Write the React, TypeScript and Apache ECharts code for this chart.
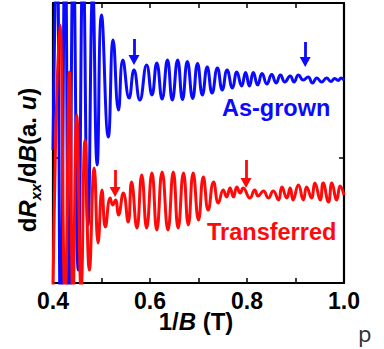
import React, { useEffect, useRef } from "react";
import * as echarts from "echarts";

const xTicks = [0.4, 0.5, 0.6, 0.7, 0.8, 0.9, 1.0];
const xTickLabels = ["0.4", "", "0.6", "", "0.8", "", "1.0"];

const blueX = [0.400,0.408,0.416,0.425,0.433,0.442,0.452,0.462,0.472,0.482,0.491,0.500,0.514,0.524,0.535,0.544,0.557,0.567,0.579,0.593,0.604,0.614,0.625,0.636,0.646,0.657,0.667,0.677,0.688,0.698,0.708,0.718,0.728,0.739,0.749,0.759,0.770,0.779,0.789,0.797,0.805,0.813,0.822,0.831,0.841,0.851,0.860,0.869,0.878,0.889,0.897,0.906,0.916,0.926,0.935,0.944,0.954,0.964,0.973,0.981,0.988,0.994,1.000];
const blueY = [133,343,-57,343,-47,333,13,323,58,293,118,268,146,243,173,223,185,213,183,218,188,220,184,223,183,223,183.5,221.5,184.5,219.5,188,216,190,215,193,213,195,211,197,210.5,197,210.5,198,209.5,199,208.5,200,208,201,207,201,208,203,206,200,205,201,205,201.5,204.5,202.5,205,203];

const redX = [0.400,0.414,0.425,0.434,0.441,0.449,0.458,0.466,0.475,0.485,0.493,0.501,0.508,0.518,0.523,0.529,0.535,0.545,0.555,0.562,0.573,0.583,0.593,0.604,0.614,0.625,0.637,0.648,0.658,0.669,0.679,0.689,0.700,0.710,0.720,0.731,0.741,0.751,0.758,0.765,0.772,0.779,0.786,0.792,0.806,0.816,0.823,0.834,0.844,0.854,0.865,0.872,0.882,0.889,0.895,0.906,0.916,0.923,0.933,0.940,0.951,0.957,0.968,0.975,0.985,0.992,1.000];
const redY = [-7,258,-17,211,-17,168,-7,143,13,115,40,93,56,85,78,83,68,90,61,101,55,108,55,110,53,111,53,111,55,110,58,110,63,106,73,101,80,93,86,95,86,96,90,95,85,93,87,92,85,92,83,96,85,95,83,98,83,96,85,100,83,100,81,100,83,97,88];

const blueArrowX = [0.567, 0.920];
const blueArrowTop = [244, 241];
const blueArrowTip = [218, 216];
const redArrowX = [0.528, 0.798];
const redArrowTop = [113, 123];
const redArrowTip = [86, 95];

const yTickValues = [125];

const BLUE = "#0a0aff";
const RED = "#ff0a0a";
const FONT = "'Liberation Sans', Arial, Helvetica, sans-serif";

function arrows(xs: number[], tops: number[], tips: number[], color: string) {
  return {
    silent: true,
    symbol: ["none", "triangle"],
    symbolSize: [11, 10],
    label: { show: false },
    emphasis: { disabled: true },
    lineStyle: { color, width: 2.8, type: "solid" },
    data: xs.map((x, i) => [
      { coord: [x, tops[i]] },
      { coord: [x, tips[i] + 5] },
    ]),
  };
}

function buildOption() {
  const axisLine = { show: true, onZero: false, lineStyle: { color: "#000", width: 2.2 } };
  const tick = { show: true, inside: true, length: 5, lineStyle: { color: "#000", width: 1.5 } };
  const fmt = (v: number) => {
    const i = xTicks.findIndex((t) => Math.abs(t - v) < 1e-6);
    return i >= 0 ? xTickLabels[i] : "";
  };
  return {
    animation: false,
    backgroundColor: "#fff",
    grid: { left: 53, top: 3, width: 291, height: 280, containLabel: false },
    xAxis: [
      {
        type: "value", position: "bottom", min: 0.4, max: 1.0, interval: 0.1,
        axisLine, axisTick: tick, splitLine: { show: false },
        axisLabel: { formatter: fmt, fontSize: 23, fontWeight: "bold", color: "#000", fontFamily: FONT, margin: 6 },
      },
      {
        type: "value", position: "top", min: 0.4, max: 1.0, interval: 0.1,
        axisLine, axisTick: tick, splitLine: { show: false }, axisLabel: { show: false },
      },
    ],
    yAxis: [
      {
        type: "value", position: "left", min: 0, max: 280,
        axisLine, axisTick: { ...tick, customValues: yTickValues }, splitLine: { show: false }, axisLabel: { show: false },
      },
      {
        type: "value", position: "right", min: 0, max: 280,
        axisLine, axisTick: { ...tick, customValues: yTickValues }, splitLine: { show: false }, axisLabel: { show: false },
      },
    ],
    series: [
      {
        type: "line", xAxisIndex: 0, yAxisIndex: 0, smooth: true, showSymbol: false, clip: true,
        lineStyle: { color: BLUE, width: 3 }, itemStyle: { color: BLUE },
        data: blueX.map((x, i) => [x, blueY[i]]),
        markLine: arrows(blueArrowX, blueArrowTop, blueArrowTip, BLUE),
      },
      {
        type: "line", xAxisIndex: 0, yAxisIndex: 0, smooth: true, showSymbol: false, clip: true,
        lineStyle: { color: RED, width: 3 }, itemStyle: { color: RED },
        data: redX.map((x, i) => [x, redY[i]]),
        markLine: arrows(redArrowX, redArrowTop, redArrowTip, RED),
      },
    ],
    graphic: [
      {
        type: "text", x: 222, y: 107.5,
        style: { text: "As-grown", fill: BLUE, font: `bold 23.5px ${FONT}`, align: "left", verticalAlign: "middle" },
      },
      {
        type: "text", x: 207, y: 231.5,
        style: { text: "Transferred", fill: RED, font: `bold 23.5px ${FONT}`, align: "left", verticalAlign: "middle" },
      },
      {
        type: "text", x: 196, y: 321.5,
        style: {
          text: "{n|1/}{i|B}{n| (T)}", align: "center", verticalAlign: "middle",
          rich: {
            n: { fontSize: 24, fontWeight: "bold", fontFamily: FONT, fill: "#000" },
            i: { fontSize: 24, fontWeight: "bold", fontStyle: "italic", fontFamily: FONT, fill: "#000" },
          },
        },
      },
      {
        type: "text", x: 27, y: 160, rotation: Math.PI / 2,
        style: {
          text: "{n|d}{i|R}{s|xx}{n|/d}{i|B}{n|(a. }{i|u}{n|)}", align: "center", verticalAlign: "middle",
          rich: {
            n: { fontSize: 24, fontWeight: "bold", fontFamily: FONT, fill: "#000", lineHeight: 32, verticalAlign: "middle" },
            i: { fontSize: 24, fontWeight: "bold", fontStyle: "italic", fontFamily: FONT, fill: "#000", lineHeight: 32, verticalAlign: "middle" },
            s: { fontSize: 15, fontWeight: "bold", fontStyle: "italic", fontFamily: FONT, fill: "#000", lineHeight: 32, verticalAlign: "bottom" },
          },
        },
      },
      {
        type: "text", x: 358, y: 333,
        style: { text: "p", fill: "#333", font: `normal 22px 'Noto Sans', sans-serif`, align: "left", verticalAlign: "middle" },
      },
    ],
  };
}

export default function App() {
  const ref = useRef<HTMLDivElement>(null);
  useEffect(() => {
    if (!ref.current) return;
    const chart = echarts.init(ref.current, null, { renderer: "svg" });
    chart.setOption(buildOption() as any);
    return () => chart.dispose();
  }, []);
  return (
    <div
      ref={ref}
      style={{ position: "absolute", left: 0, top: 0, width: 384, height: 349, background: "#fff" }}
    />
  );
}
